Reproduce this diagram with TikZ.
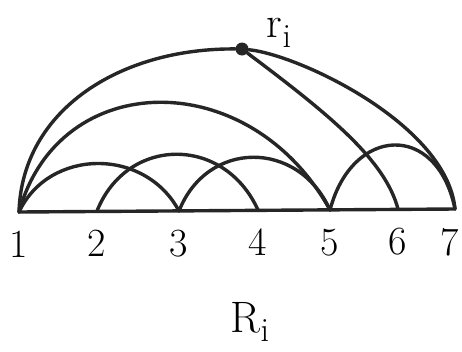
\documentclass[tikz,border=0pt]{standalone}
\usepackage{tikz}
\usetikzlibrary{positioning}
\newcommand{\lowi}[1]{\raisebox{-0.22em}{\fontsize{#1}{#1}\selectfont i}}
\begin{document}
\begin{tikzpicture}[
  x=1pt, y=-1pt,
  edge/.style={draw=black!85, line width=3.4pt, line cap=round, line join=round},
  num/.style={font=\fontsize{40}{44}\selectfont, inner sep=0pt},
  lab/.style={font=\fontsize{44}{48}\selectfont, inner sep=0pt},
  dot/.style={circle, fill=black!85, inner sep=0pt, minimum size=13pt}
]
\useasboundingbox (0,0) rectangle (462,351);
% points on the line
\coordinate (p1) at (19,212);
\coordinate (p2) at (97,211);
\coordinate (p3) at (179,211);
\coordinate (p4) at (258,210);
\coordinate (p5) at (330,210);
\coordinate (p6) at (398,209);
\coordinate (p7) at (455,209);
\node[dot] (ri) at (242,49) {};
\node[lab, above right=-3pt and 20pt of ri] (ril) {r\lowi{34}};
\draw[edge] (p1) -- (p7);
% small arcs
\draw[edge] (p1) .. controls +(30,-64) and +(-34,-64) .. (p3);
\draw[edge] (p2) .. controls +(30,-75) and +(-34,-75) .. (p4);
\draw[edge] (p3) .. controls +(28,-71) and +(-32,-71) .. (p5);
\draw[edge] (p5) .. controls +(22,-84) and +(-18,-88) .. (p7);
% big arcs
\draw[edge] (p1) .. controls +(40,-145) and +(-80,-145) .. (p5);
\draw[edge] (p1) .. controls (22,110) and (120,48) .. (ri)
            .. controls (300,55) and (447,125) .. (p7);
\draw[edge] (ri) .. controls (330,115) and (385,160) .. (p6);
\foreach \i in {1,...,6}
  \node[num, below=19pt of p\i] (n\i) {\i};
\node[num, below=19pt of p7, xshift=-5pt] (n7) {7};
\node[lab] (Ri) at (250,322) {R\lowi{34}};
\end{tikzpicture}
\end{document}
